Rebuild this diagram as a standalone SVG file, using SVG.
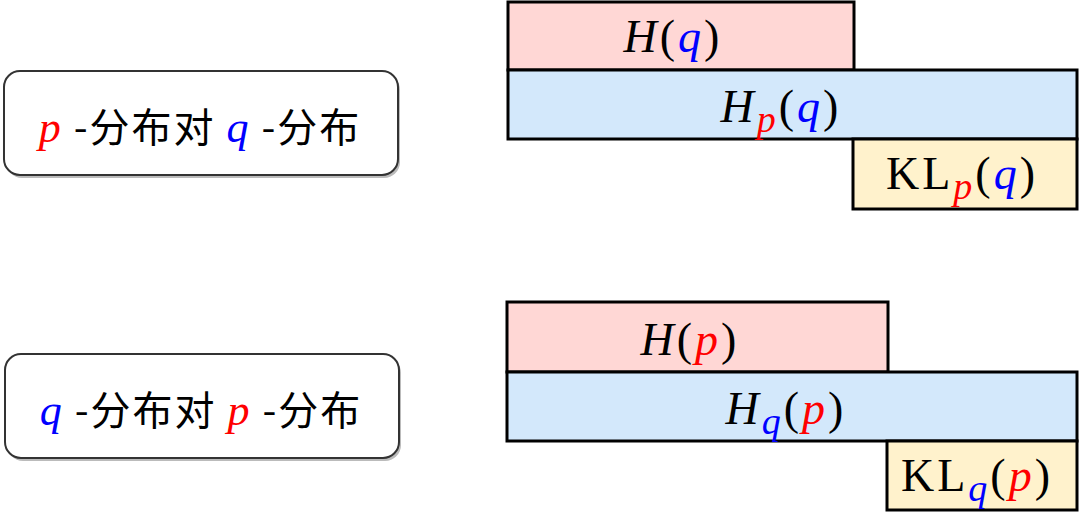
<svg xmlns="http://www.w3.org/2000/svg" width="1080" height="512" viewBox="0 0 1080 512">
<style>
.lbl{fill:#fff;stroke:#333;stroke-width:2}
.shd{fill:#bbb}
.bar{stroke:#000;stroke-width:3}
.pink{fill:#FFD7D5}
.blue{fill:#D3E8FB}
.yel{fill:#FFF2CC}
.cjk{font-family:"Noto Sans CJK SC","Noto Sans",sans-serif;font-size:40px;fill:#000;letter-spacing:2px}
.m{font-family:"Liberation Serif","DejaVu Serif",serif;font-size:46px;fill:#000;letter-spacing:3px}
.mi{font-family:"Liberation Serif","DejaVu Serif",serif;font-style:italic}
.r{fill:#f00}
.b{fill:#00f}
</style>
<rect width="1080" height="512" fill="#fff"/>
<g id="label-top">
<rect class="shd" x="6" y="74" width="394" height="104" rx="16"/>
<rect class="lbl" x="4" y="71" width="394" height="104" rx="16"/>
<text class="cjk" x="200" y="142" text-anchor="middle"><tspan class="mi r" font-size="44">p</tspan> -分布对 <tspan class="mi b" font-size="44">q</tspan> -分布</text>
</g>
<g id="label-bottom">
<rect class="shd" x="7" y="357" width="394" height="104" rx="16"/>
<rect class="lbl" x="5" y="354" width="394" height="104" rx="16"/>
<text class="cjk" x="201" y="425" text-anchor="middle"><tspan class="mi b" font-size="44">q</tspan> -分布对 <tspan class="mi r" font-size="44">p</tspan> -分布</text>
</g>
<g id="H-q">
<rect class="bar pink" x="508" y="2" width="346" height="68"/>
<text class="m" x="673" y="52" text-anchor="middle"><tspan class="mi">H</tspan>(<tspan class="mi b">q</tspan>)</text>
</g>
<g id="Hp-q">
<rect class="bar blue" x="508" y="70" width="569" height="69"/>
<text class="m" x="781" y="122" text-anchor="middle"><tspan class="mi">H</tspan><tspan class="mi r" font-size="38" dy="10">p</tspan><tspan dy="-10">(</tspan><tspan class="mi b">q</tspan>)</text>
</g>
<g id="KLp-q">
<rect class="bar yel" x="853" y="139" width="224" height="70"/>
<text class="m" x="962" y="189" text-anchor="middle" letter-spacing="1">KL<tspan class="mi r" font-size="38" dy="10" letter-spacing="3">p</tspan><tspan dy="-10" letter-spacing="3">(</tspan><tspan class="mi b" letter-spacing="3">q</tspan>)</text>
</g>
<g id="H-p">
<rect class="bar pink" x="507" y="302" width="381" height="70"/>
<text class="m" x="690" y="355" text-anchor="middle"><tspan class="mi">H</tspan>(<tspan class="mi r">p</tspan>)</text>
</g>
<g id="Hq-p">
<rect class="bar blue" x="507" y="372" width="570" height="69"/>
<text class="m" x="786" y="424" text-anchor="middle"><tspan class="mi">H</tspan><tspan class="mi b" font-size="38" dy="10">q</tspan><tspan dy="-10">(</tspan><tspan class="mi r">p</tspan>)</text>
</g>
<g id="KLq-p">
<rect class="bar yel" x="887" y="441" width="190" height="69"/>
<text class="m" x="977" y="491" text-anchor="middle" letter-spacing="1">KL<tspan class="mi b" font-size="38" dy="10" letter-spacing="3">q</tspan><tspan dy="-10" letter-spacing="3">(</tspan><tspan class="mi r" letter-spacing="3">p</tspan>)</text>
</g>
<g id="connectors"/>
</svg>
